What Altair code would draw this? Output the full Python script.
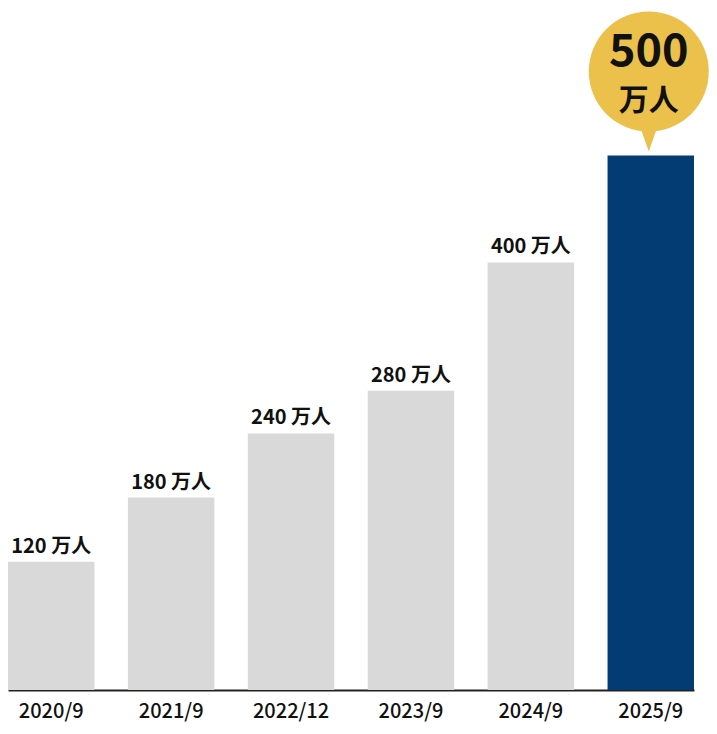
import altair as alt
import pandas as pd

# data
periods = ["2020/9", "2021/9", "2022/12", "2023/9", "2024/9", "2025/9"]
users = [120, 180, 240, 280, 400, 500]  # 万人
labels = ["120 万人", "180 万人", "240 万人", "280 万人", "400 万人", "500 万人"]
highlight = "2025/9"
bubble_number = "500"
bubble_unit = "万人"

FONT = "Noto Sans CJK JP"
GRAY = "#d9d9d9"
NAVY = "#033b73"
GOLD = "#ebc04b"

df = pd.DataFrame({"period": periods, "users": users, "label": labels})
df["num"] = bubble_number
df["unit"] = bubble_unit

x = alt.X(
    "period:N",
    sort=None,
    scale=alt.Scale(paddingInner=0.279, paddingOuter=0),
    axis=alt.Axis(
        title=None,
        labelAngle=0,
        labelFont=FONT,
        labelFontSize=20,
        labelFontWeight=500,
        labelColor="#111111",
        labelPadding=11,
        ticks=False,
        domainColor="#222222",
        domainWidth=2,
    ),
)
y = alt.Y(
    "users:Q",
    scale=alt.Scale(domain=[0, 638], nice=False, zero=True),
    axis=None,
)

base = alt.Chart(df).encode(x=x, y=y)

bars = base.mark_bar().encode(
    color=alt.condition(
        alt.datum.period == highlight, alt.value(NAVY), alt.value(GRAY)
    )
)

bar_labels = (
    base.transform_filter(alt.datum.period != highlight)
    .mark_text(font=FONT, fontSize=20, fontWeight="bold", color="#111111", dy=-15)
    .encode(text="label:N")
)

# speech bubble over the highlighted bar
top = base.transform_filter(alt.datum.period == highlight)

circle = top.mark_point(
    shape="circle", filled=True, opacity=1, color=GOLD, size=14400,
    yOffset=-84, xOffset=-2,
)
pointer = top.mark_point(
    shape="M-0.7,-1L0.7,-1L0,1Z", filled=True, opacity=1, color=GOLD, size=484,
    yOffset=-15, xOffset=-2,
)
num_text = top.mark_text(
    font=FONT, fontSize=45, fontWeight="bold", color="#111111",
    baseline="middle", dy=-104, dx=-2,
).encode(text="num:N")
unit_text = top.mark_text(
    font=FONT, fontSize=30, fontWeight="bold", color="#111111",
    baseline="middle", dy=-55, dx=-2,
).encode(text="unit:N")

chart = (
    alt.layer(bars, bar_labels, circle, pointer, num_text, unit_text)
    .properties(
        width=686,
        height=682,
        autosize=alt.AutoSizeParams(type="none"),
        padding={"left": 0, "top": 0, "right": 15, "bottom": 36},
    )
    .configure_view(stroke=None)
)

chart.save("out.html", embed_options={"renderer": "svg", "actions": False})
